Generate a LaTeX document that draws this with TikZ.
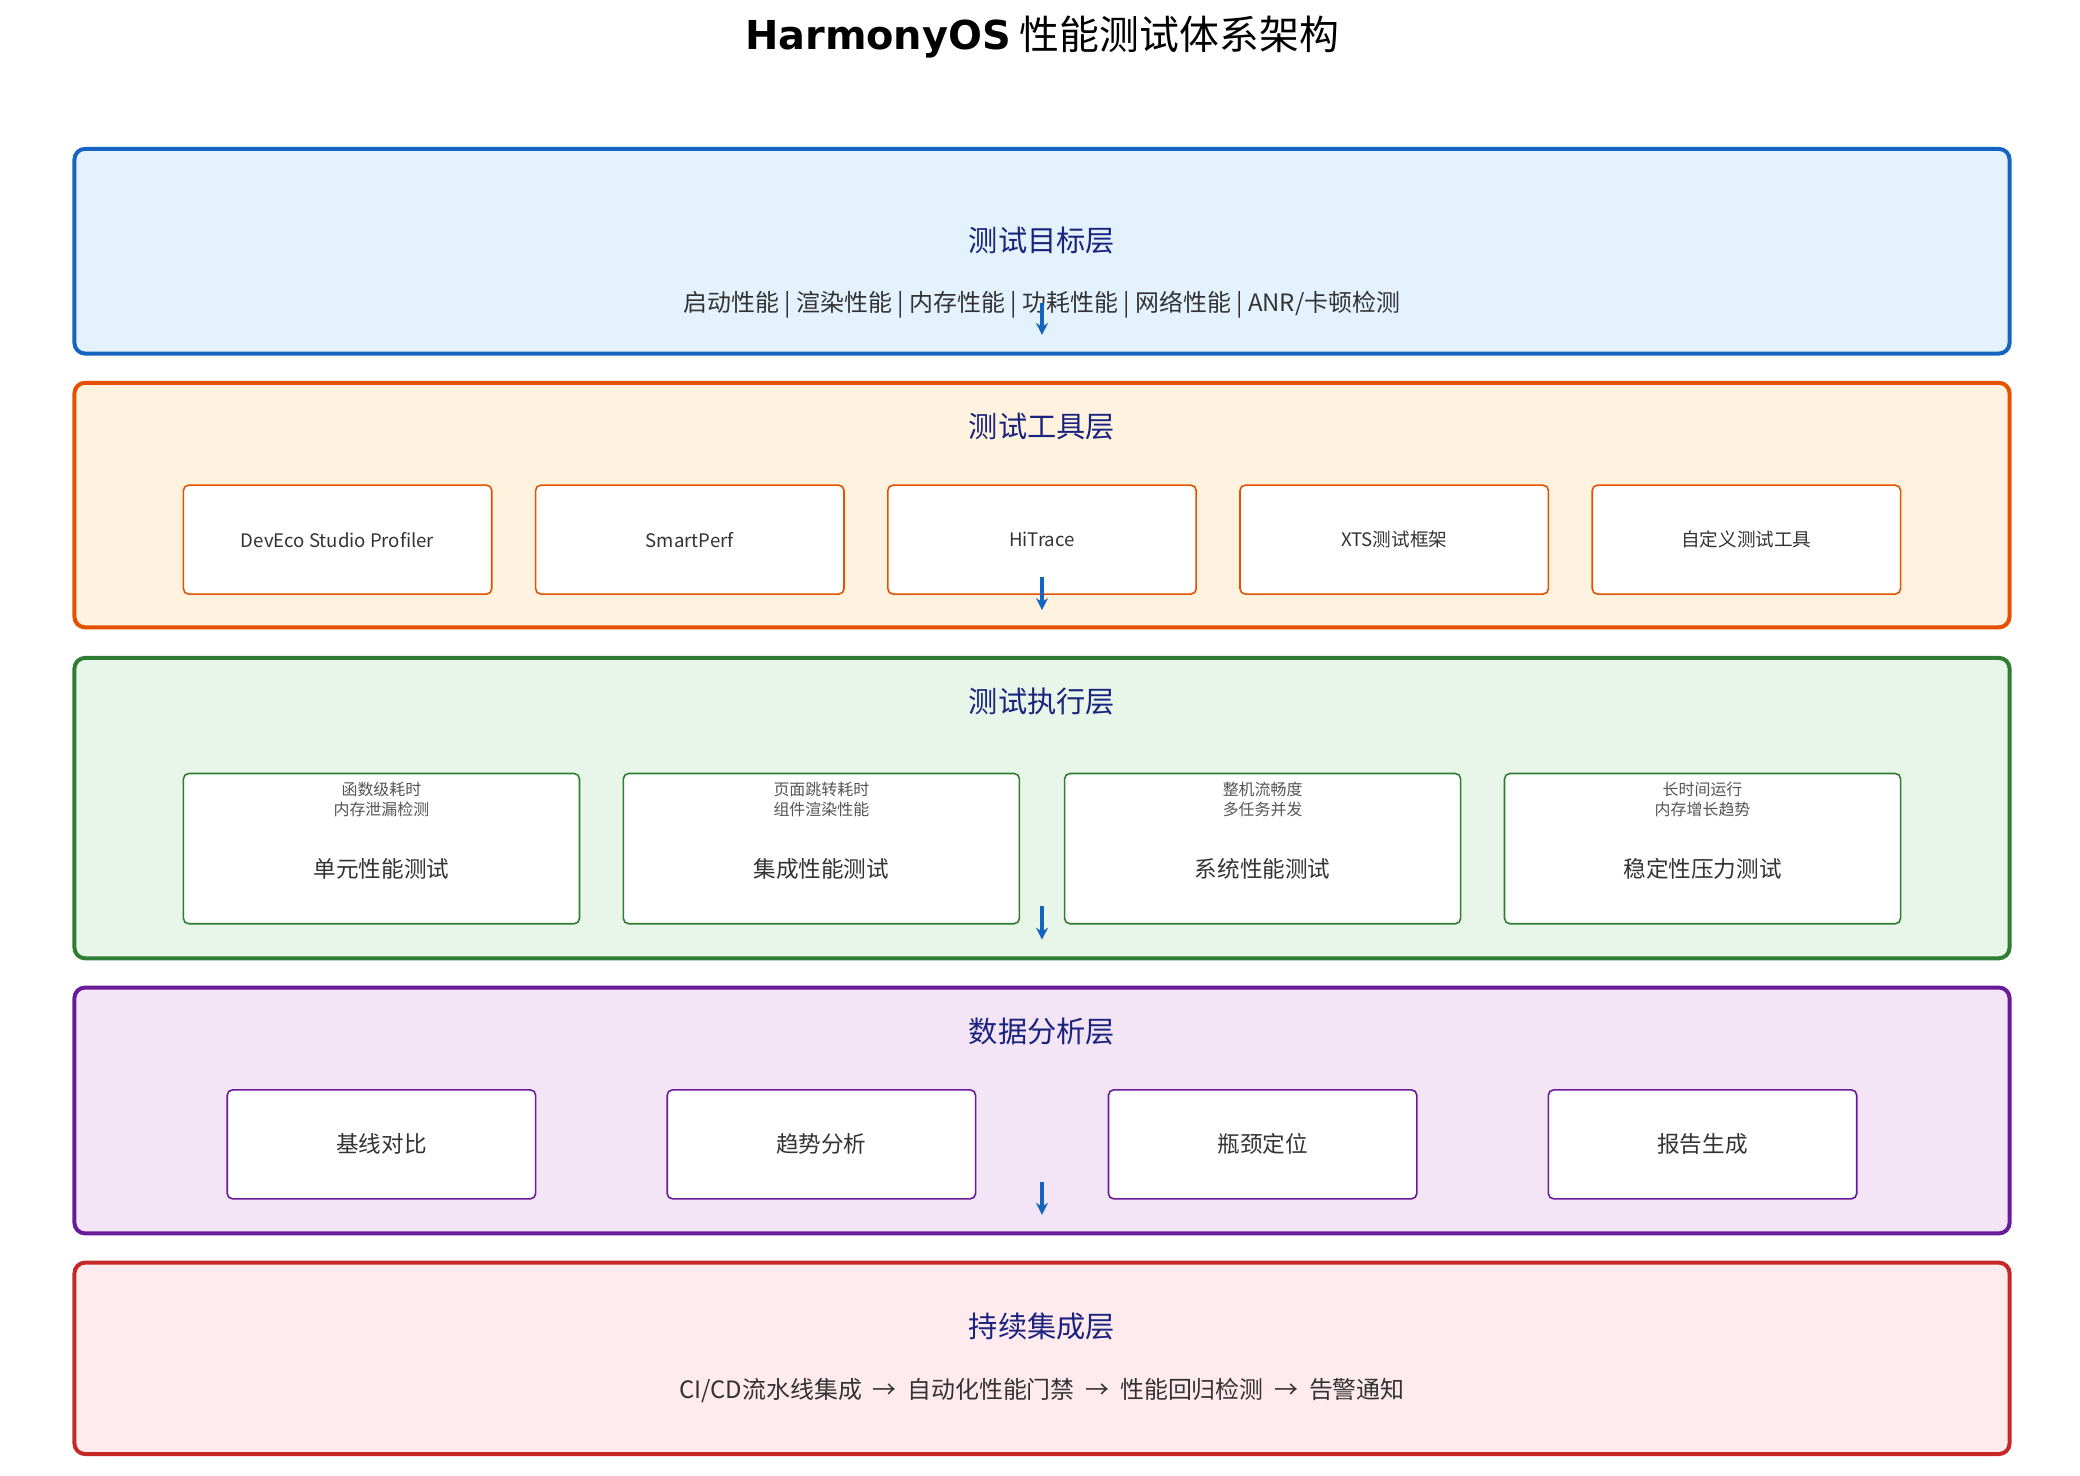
\documentclass[tikz,border=0pt]{standalone}
\usepackage{fontspec}
\setmainfont{Noto Sans CJK SC}
\newfontfamily\dv{DejaVu Sans}
\usetikzlibrary{arrows.meta}
\definecolor{navy}{HTML}{1A237E}
\definecolor{txt}{HTML}{333333}
\definecolor{arr}{HTML}{1565C0}
\definecolor{fblue}{HTML}{E3F2FD}
\definecolor{lorange}{HTML}{E65100}
\definecolor{forange}{HTML}{FFF3E0}
\definecolor{lgreen}{HTML}{2E7D32}
\definecolor{fgreen}{HTML}{E8F5E9}
\definecolor{lpurple}{HTML}{6A1B9A}
\definecolor{fpurple}{HTML}{F3E5F5}
\definecolor{lred}{HTML}{C62828}
\definecolor{fred}{HTML}{FFEBEE}
\definecolor{tinyc}{HTML}{555555}
\tikzset{
 layer/.style={draw=#1, line width=1.5bp, rounded corners=4bp},
 box/.style={draw=#1, fill=white, line width=0.6bp, rounded corners=2bp},
 ltitle/.style={text=navy, font=\fontsize{11bp}{12bp}\selectfont},
 sub/.style={text=txt, font=\fontsize{9bp}{10bp}\selectfont},
 btxt/.style={text=txt, font=\fontsize{7bp}{8bp}\selectfont},
 tiny/.style={text=tinyc, font=\fontsize{6bp}{7.5bp}\selectfont, align=center},
 flow/.style={draw=arr, line width=1.6bp, -{Stealth[length=4.5bp,width=4.5bp]}}
}
\begin{document}
\begin{tikzpicture}[x=0.5bp,y=-0.5bp]
\useasboundingbox (0,0) rectangle (1565,1110);
\node[font=\fontsize{15bp}{18bp}\selectfont] (title) at (784,28) {{\dv\bfseries HarmonyOS} 性能测试体系架构};
% layer 1
\draw[layer=arr, fill=fblue] (56,112) rectangle (1512,266);
\node[ltitle] (t1) at (784,181) {测试目标层};
\node[sub] (s1) at (784,229) {启动性能 | 渲染性能 | 内存性能 | 功耗性能 | 网络性能 | ANR/卡顿检测};
\coordinate (a1s) at (784,228); \coordinate (a1e) at (784,252);
\draw[flow] (a1s) -- (a1e);
% layer 2
\draw[layer=lorange, fill=forange] (56,288) rectangle (1512,472);
\node[ltitle] (t2) at (784,321) {测试工具层};
\foreach \x/\l [count=\i] in {138/DevEco Studio Profiler,403/SmartPerf,668/HiTrace,933/XTS测试框架,1198/自定义测试工具}{
 \draw[box=lorange] (\x,365) rectangle ++(232,82);
 \node[btxt] (tool\i) at (\x+116,406) {\l};
}
\coordinate (a2s) at (784,434); \coordinate (a2e) at (784,459);
\draw[flow] (a2s) -- (a2e);
% layer 3
\draw[layer=lgreen, fill=fgreen] (56,495) rectangle (1512,721);
\node[ltitle] (t3) at (784,528) {测试执行层};
\foreach \x/\m/\a/\b [count=\i] in {138/单元性能测试/函数级耗时/内存泄漏检测,469/集成性能测试/页面跳转耗时/组件渲染性能,801/系统性能测试/整机流畅度/多任务并发,1132/稳定性压力测试/长时间运行/内存增长趋势}{
 \draw[box=lgreen] (\x,582) rectangle ++(298,113);
 \node[tiny] (e\i a) at (\x+149,594) {\a};
 \node[tiny] (e\i b) at (\x+149,609) {\b};
 \node[sub, font=\fontsize{8.5bp}{10bp}\selectfont] (e\i) at (\x+149,654) {\m};
}
\coordinate (a3s) at (784,682); \coordinate (a3e) at (784,707);
\draw[flow] (a3s) -- (a3e);
% layer 4
\draw[layer=lpurple, fill=fpurple] (56,743) rectangle (1512,928);
\node[ltitle] (t4) at (784,776) {数据分析层};
\foreach \x/\l [count=\i] in {171/基线对比,502/趋势分析,834/瓶颈定位,1165/报告生成}{
 \draw[box=lpurple] (\x,820) rectangle ++(232,82);
 \node[btxt, font=\fontsize{8.5bp}{10bp}\selectfont] (d\i) at (\x+116,861) {\l};
}
\coordinate (a4s) at (784,889); \coordinate (a4e) at (784,914);
\draw[flow] (a4s) -- (a4e);
% layer 5
\draw[layer=lred, fill=fred] (56,950) rectangle (1512,1094);
\node[ltitle] (t5) at (784,998) {持续集成层};
\node[sub] (s5) at (784,1046) {CI/CD流水线集成 \ → \ 自动化性能门禁 \ → \ 性能回归检测 \ → \ 告警通知};
\end{tikzpicture}
\end{document}
